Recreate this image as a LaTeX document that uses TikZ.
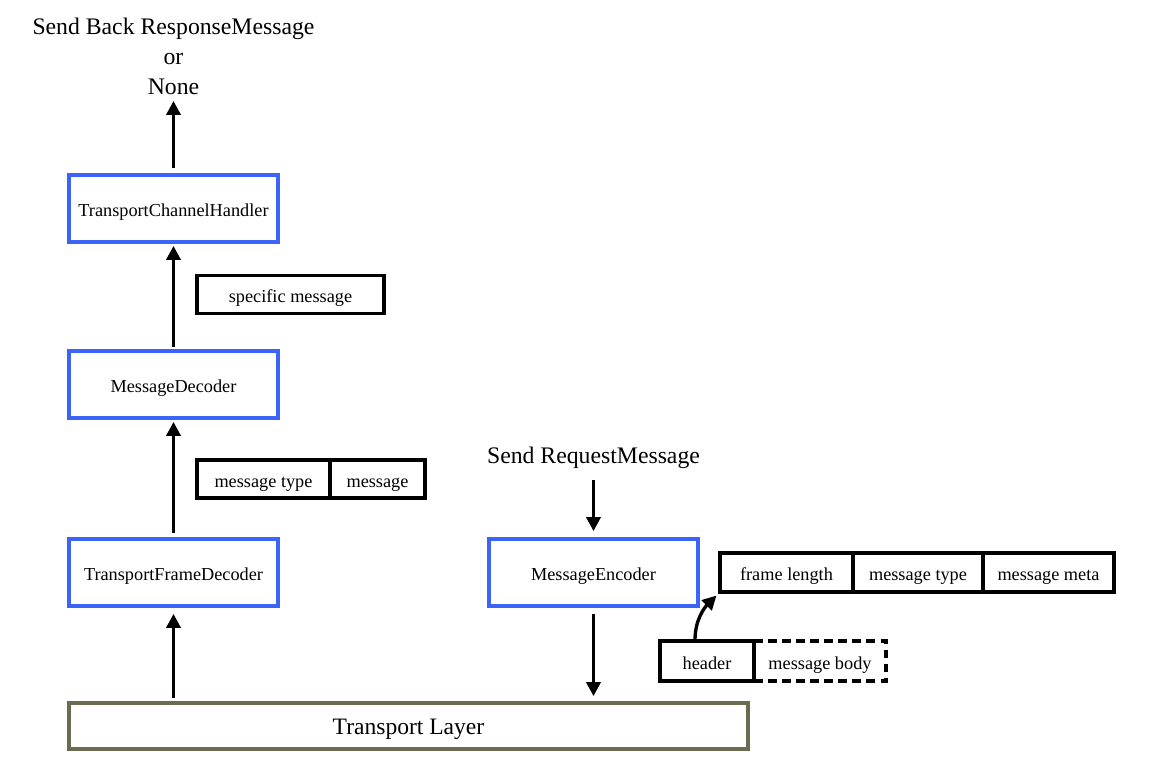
\documentclass[tikz,border=0pt]{standalone}
\usepackage{fontspec}
\setmainfont{Liberation Serif}
\usetikzlibrary{positioning,arrows.meta}

\definecolor{boxblue}{RGB}{60,100,248}
\definecolor{layergray}{RGB}{108,106,80}

\begin{document}
\begin{tikzpicture}[
    handler/.style={draw=boxblue, line width=2.1pt, minimum width=4.18cm, minimum height=1.34cm, text height=2.1ex, text depth=0pt, font=\fontsize{10.4}{12}\selectfont},
    field/.style={draw, line width=2.1pt, minimum height=0.76cm, outer sep=0pt, text height=2.1ex, text depth=0pt, font=\fontsize{10.4}{12}\selectfont},
    arr/.style={line width=1.9pt, -{Triangle[length=0.28cm,width=0.28cm]}},
    title/.style={align=center, font=\fontsize{13.5}{17}\selectfont}]
    \useasboundingbox (0,0) rectangle (23,-15.44);

    % decoding side
    \node[handler] (tch) at (3.47,-4.17) {TransportChannelHandler};
    \node[handler] (md) at (3.47,-7.69) {MessageDecoder};
    \node[handler] (tfd) at (3.47,-11.45) {TransportFrameDecoder};
    \node[title] (resp) at (3.47,-1.13) {Send Back ResponseMessage\\or\\None};

    \node[field, minimum width=3.74cm] (spec) at (5.81,-5.89) {specific message};
    \node[field, minimum width=2.66cm] (mtype) at (5.27,-9.58) {message type};
    \node[field, minimum width=1.9cm, right=0pt of mtype] (msg) {message};

    % encoding side
    \node[title] (req) at (11.87,-9.16) {Send RequestMessage};
    \node[handler] (enc) at (11.87,-11.45) {MessageEncoder};

    \node[field, minimum width=2.66cm, minimum height=0.78cm] (flen) at (15.73,-11.45) {frame length};
    \node[field, minimum width=2.6cm, minimum height=0.78cm, right=0pt of flen] (mtype2) {message type};
    \node[field, minimum width=2.62cm, minimum height=0.78cm, right=0pt of mtype2] (meta) {message meta};

    \node[field, minimum width=1.88cm, minimum height=0.8cm] (hdr) at (14.14,-13.22) {header};
    \node[field, draw=none, minimum width=2.64cm, minimum height=0.8cm, right=0pt of hdr] (body) {message body};
    \draw[line width=2.1pt, dash pattern=on 5pt off 3pt] (hdr.north east) -- (body.north east) -- (body.south east) -- (hdr.south east) -- cycle;

    \node[draw=layergray, line width=2.1pt, minimum width=13.58cm, minimum height=0.92cm, text height=2.1ex, text depth=0pt, font=\fontsize{13.4}{15}\selectfont] (tl) at (8.17,-14.52) {Transport Layer};

    % arrows
    \draw[arr, shorten <=0.06cm, shorten >=0.12cm] (tl.north -| tfd) -- (tfd.south);
    \draw[arr, shorten <=0.08cm, shorten >=0.04cm] (tfd.north) -- (md.south);
    \draw[arr, shorten <=0.04cm, shorten >=0.04cm] (md.north) -- (tch.south);
    \draw[arr, shorten <=0.1cm] (tch.north) -- (resp.south);
    \draw[arr, shorten <=0.1cm, shorten >=0.12cm] (req.south) -- (enc.north);
    \draw[arr, shorten <=0.12cm, shorten >=0.1cm] (enc.south) -- (enc.south |- tl.north);
    \draw[arr, shorten <=0.02cm, shorten >=0.1cm] ([xshift=-0.24cm]hdr.north) to[out=90, in=225] (flen.south west);
\end{tikzpicture}
\end{document}
